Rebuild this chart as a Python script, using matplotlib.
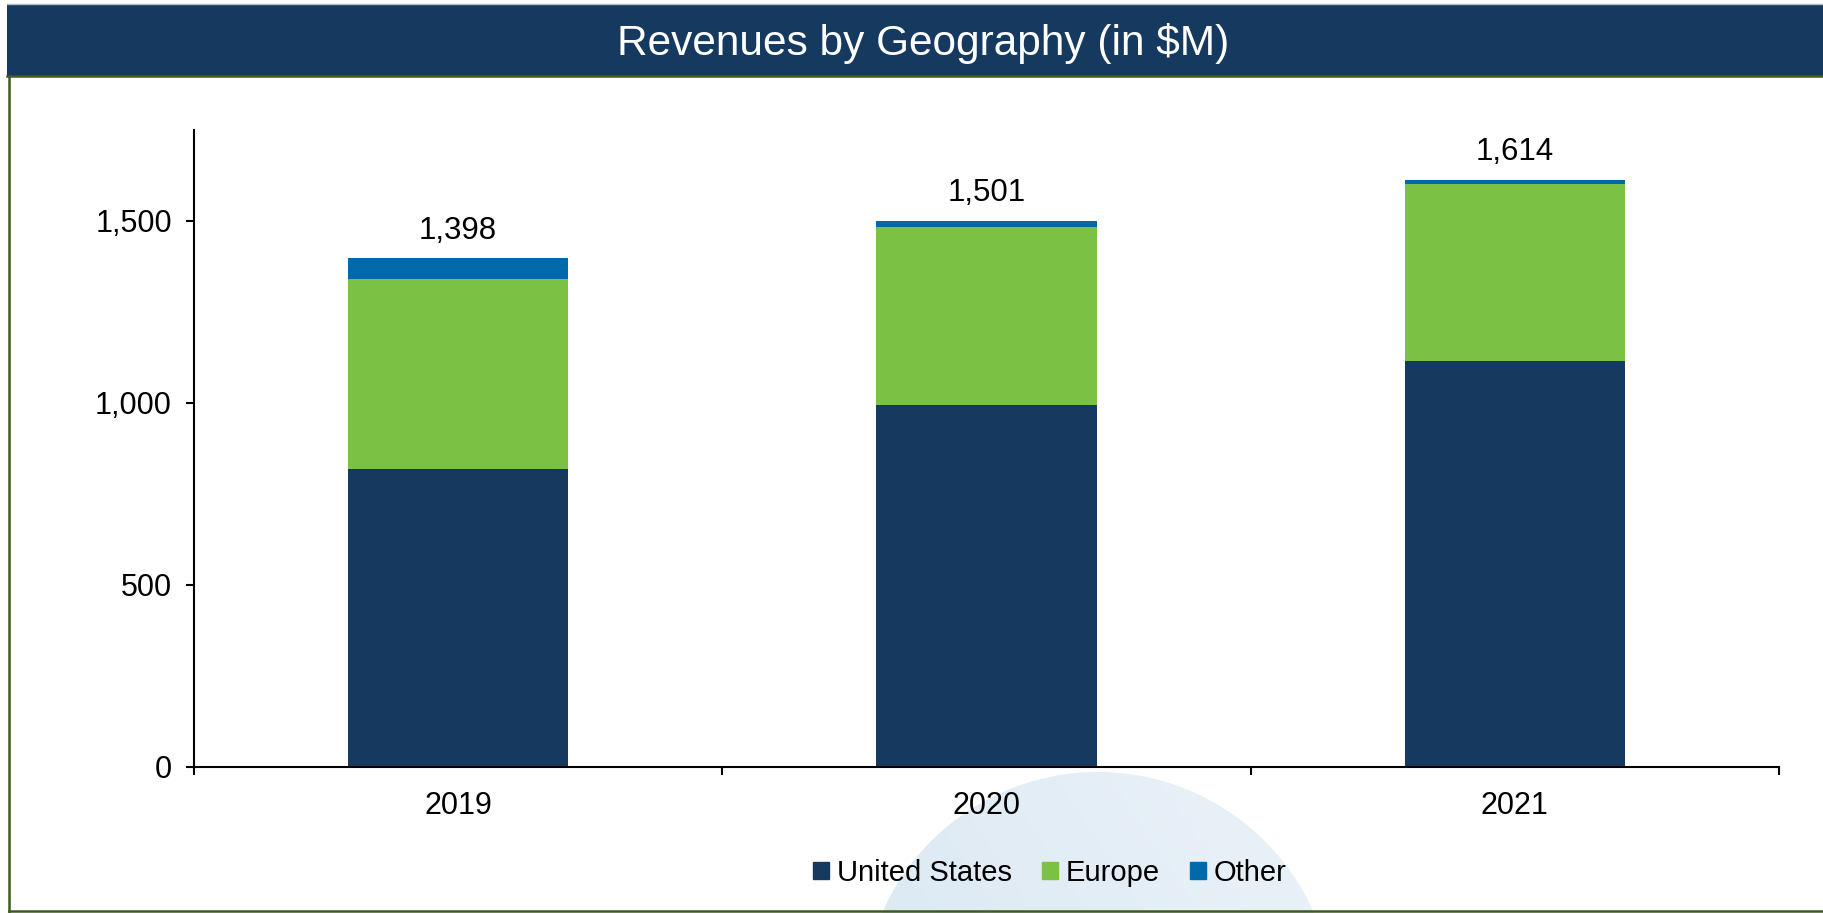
import matplotlib
matplotlib.use("Agg")
import matplotlib.pyplot as plt
import numpy as np
from matplotlib.patches import Rectangle, Circle, Patch
from matplotlib.ticker import FuncFormatter

plt.rcParams["font.family"] = ["Liberation Sans", "DejaVu Sans"]

# data (in $M)
years = ["2019", "2020", "2021"]
us = [818, 994, 1115]
europe = [522, 490, 487]
other = [58, 17, 12]
totals = [1398, 1501, 1614]
series_names = ["United States", "Europe", "Other"]

NAVY = "#163a5f"
GREEN = "#7bc143"
BLUE = "#0069aa"
BORDER = "#3e5a1f"

W, H = 1824, 913
fig = plt.figure(figsize=(W / 100, H / 100), dpi=100)

# background layer in pixel coordinates: header bar, frame, decorative circle
bg = fig.add_axes([0, 0, 1, 1], zorder=-1)
bg.axis("off")

circ = Circle((1098, 1008), 236, transform=bg.transData, facecolor="none", edgecolor="none")
bg.add_patch(circ)
gx, gy = np.meshgrid(np.linspace(0, 1, 200), np.linspace(0, 1, 200))
grad = gx * 0.6 + (1 - gy) * 0.4
cmap = matplotlib.colors.LinearSegmentedColormap.from_list("c", ["#d6e5f1", "#ecf3f9"])
img = bg.imshow(grad, extent=(862, 1334, 1244, 772), cmap=cmap, zorder=0, aspect="auto")
img.set_clip_path(circ)
bg.set_xlim(0, W)
bg.set_ylim(H, 0)

bg.add_patch(Rectangle((7, 5), W - 7, 71, facecolor=NAVY, edgecolor="none", zorder=2))
bg.plot([7, W], [4.5, 4.5], color="#b4bec8", lw=1, zorder=2)
bg.plot([7, W], [76.5, 76.5], color=BORDER, lw=1.8, zorder=3)
bg.plot([9, 9], [76, 912], color=BORDER, lw=1.8, zorder=3)
bg.plot([9, W], [911.5, 911.5], color=BORDER, lw=1.8, zorder=3)
bg.text(923, 44, "Revenues by Geography (in $M)", color="white", fontsize=30.5,
        ha="center", va="center", zorder=4)

# main chart
ax = fig.add_axes([194 / W, 1 - 767 / H, (1779 - 194) / W, (767 - 130) / H])
ax.patch.set_alpha(0)
x = np.arange(len(years))
bw = 0.417
bottom2 = [a + b for a, b in zip(us, europe)]
ax.bar(x, us, bw, color=NAVY, label=series_names[0])
ax.bar(x, europe, bw, bottom=us, color=GREEN, label=series_names[1])
ax.bar(x, other, bw, bottom=bottom2, color=BLUE, label=series_names[2])

for xi, t in zip(x, totals):
    ax.annotate(f"{t:,}", (xi, t), xytext=(0, 14), textcoords="offset points",
                ha="center", va="baseline", fontsize=22.5)

ax.set_xlim(-0.5, 2.5)
ax.set_ylim(0, 1750)
ax.set_yticks([0, 500, 1000, 1500])
ax.yaxis.set_major_formatter(FuncFormatter(lambda v, p: f"{v:,.0f}"))
ax.set_xticks(x)
ax.set_xticklabels(years)
ax.set_xticks([-0.5, 0.5, 1.5, 2.5], minor=True)
ax.tick_params(axis="x", which="major", length=0, pad=17, labelsize=22)
ax.tick_params(axis="x", which="minor", length=6, width=1.5, direction="out")
ax.tick_params(axis="y", length=6, width=1.5, pad=10, labelsize=22)
for s in ["top", "right"]:
    ax.spines[s].set_visible(False)
for s in ["left", "bottom"]:
    ax.spines[s].set_linewidth(1.5)

handles = [Patch(color=c) for c in (NAVY, GREEN, BLUE)]
fig.legend(handles, series_names, loc="center", bbox_to_anchor=(1050 / W, 1 - 873 / H),
           ncol=3, frameon=False, fontsize=21, handlelength=0.55, handleheight=0.55,
           handletextpad=0.25, columnspacing=1.05)

fig.savefig("out.png", dpi=100)
